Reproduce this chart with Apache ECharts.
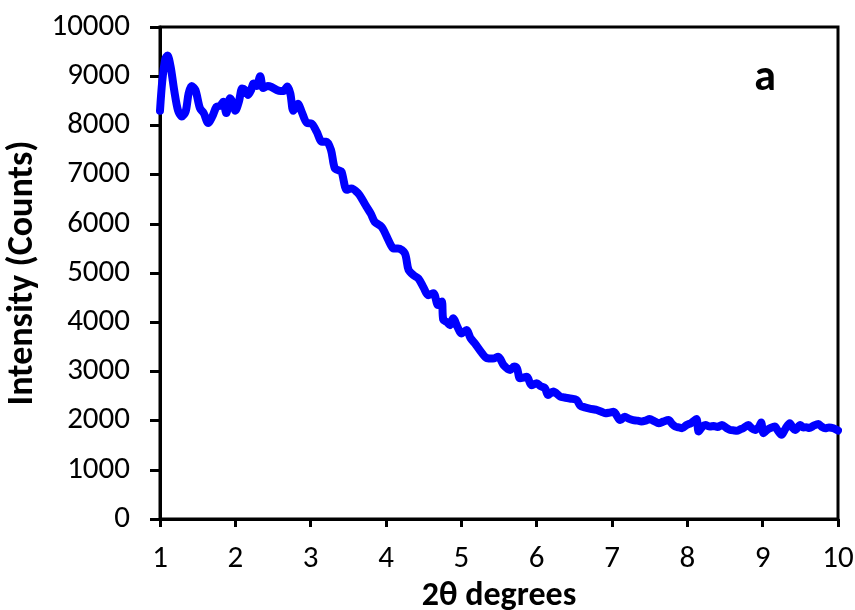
<!DOCTYPE html>
<html>
<head>
<meta charset="utf-8">
<script src="https://cdn.jsdelivr.net/npm/echarts@6/dist/echarts.min.js"></script>
<style>
html,body{margin:0;padding:0;background:#fff;}
#chart{width:855px;height:610px;}
</style>
</head>
<body>
<div id="chart"></div>
<script>
// 2-theta (degrees)
var twoTheta = [1.00,1.03,1.07,1.10,1.14,1.19,1.24,1.29,1.34,1.38,1.42,1.47,1.53,1.58,1.64,1.70,1.75,1.80,1.84,1.88,1.93,1.97,2.00,2.05,2.09,2.13,2.17,2.21,2.24,2.28,2.33,2.37,2.43,2.48,2.55,2.60,2.64,2.69,2.73,2.77,2.83,2.88,2.95,3.01,3.08,3.15,3.21,3.27,3.32,3.38,3.41,3.48,3.54,3.63,3.69,3.74,3.80,3.85,3.94,4.01,4.06,4.10,4.16,4.25,4.30,4.37,4.43,4.50,4.56,4.63,4.69,4.74,4.76,4.81,4.85,4.89,4.95,5.00,5.07,5.12,5.18,5.26,5.34,5.42,5.49,5.56,5.65,5.70,5.74,5.78,5.87,5.93,6.00,6.05,6.11,6.15,6.22,6.31,6.37,6.44,6.53,6.58,6.64,6.69,6.75,6.80,6.86,6.91,6.96,7.02,7.11,7.17,7.22,7.28,7.34,7.39,7.45,7.50,7.56,7.62,7.68,7.75,7.80,7.84,7.89,7.93,7.99,8.05,8.12,8.15,8.20,8.24,8.30,8.35,8.40,8.46,8.52,8.57,8.62,8.66,8.70,8.74,8.81,8.85,8.90,8.95,8.98,9.01,9.05,9.10,9.16,9.20,9.25,9.30,9.36,9.40,9.43,9.50,9.54,9.58,9.62,9.67,9.74,9.78,9.83,9.88,9.94,10.00];
// Intensity (counts)
var intensity = [8300,8900,9350,9420,9200,8700,8300,8180,8280,8650,8800,8720,8350,8250,8050,8200,8380,8400,8480,8250,8550,8450,8300,8500,8750,8720,8620,8720,8850,8800,9000,8760,8800,8780,8720,8700,8700,8790,8650,8300,8440,8280,8050,8040,7870,7670,7670,7500,7130,7080,7060,6690,6720,6620,6480,6350,6200,6040,5940,5740,5580,5500,5500,5400,5060,4950,4890,4700,4550,4590,4350,4420,4050,4000,3940,4080,3900,3770,3840,3680,3570,3400,3270,3260,3300,3130,3030,3100,3060,2860,2890,2720,2760,2700,2660,2520,2590,2490,2470,2450,2420,2300,2270,2250,2230,2215,2180,2150,2160,2180,2010,2080,2040,2010,2000,1980,2000,2030,1990,1945,1980,2010,1930,1880,1860,1845,1910,1950,2030,1780,1880,1910,1880,1890,1870,1910,1850,1810,1800,1795,1820,1845,1910,1850,1810,1870,1960,1745,1800,1845,1880,1800,1710,1830,1945,1850,1810,1910,1860,1865,1850,1890,1930,1880,1845,1860,1845,1800];
var xTicks = [1,2,3,4,5,6,7,8,9,10];
var yTicks = [0,1000,2000,3000,4000,5000,6000,7000,8000,9000,10000];
var panelLabel = 'a';

var pts = twoTheta.map(function(x,i){return [x,intensity[i]];});
var FONT = 'Carlito, "Open Sans"';
var chart = echarts.init(document.getElementById('chart'), null, {renderer:'canvas'});
chart.setOption({
  animation:false,
  backgroundColor:'#fff',
  grid:{left:160,right:17,top:27,bottom:91,containLabel:false,outerBoundsMode:'none',show:true,borderColor:'#000',borderWidth:3,backgroundColor:'transparent'},
  xAxis:{
    type:'value',min:xTicks[0],max:xTicks[xTicks.length-1],interval:1,
    name:'2θ degrees',nameLocation:'middle',nameGap:58,
    nameTextStyle:{fontFamily:FONT,fontWeight:'bold',fontSize:34,color:'#000'},
    axisLine:{show:true,onZero:false,lineStyle:{color:'#000',width:3}},
    axisTick:{show:true,inside:false,length:8,lineStyle:{color:'#000',width:3}},
    axisLabel:{fontFamily:FONT,fontSize:31,color:'#000',margin:25},
    splitLine:{show:false}
  },
  yAxis:{
    type:'value',min:yTicks[0],max:yTicks[yTicks.length-1],interval:1000,
    name:'Intensity (Counts)',nameLocation:'middle',nameGap:106,
    nameTextStyle:{fontFamily:FONT,fontWeight:'bold',fontSize:36,color:'#000'},
    axisLine:{show:true,onZero:false,lineStyle:{color:'#000',width:3}},
    axisTick:{show:true,inside:false,length:10,lineStyle:{color:'#000',width:3}},
    axisLabel:{fontFamily:FONT,fontSize:31,color:'#000',margin:30,formatter:function(v){return String(v);}},
    splitLine:{show:false}
  },
  series:[{
    type:'line',data:pts,showSymbol:false,smooth:0.3,
    lineStyle:{color:'#0000FF',width:8,cap:'round',join:'round'},
    z:3
  }],
  graphic:[{
    type:'text',x:765,y:79,
    style:{text:panelLabel,fontFamily:FONT,fontWeight:'bold',fontSize:44,fill:'#000',align:'center',verticalAlign:'middle'}
  }]
});
</script>
</body>
</html>
